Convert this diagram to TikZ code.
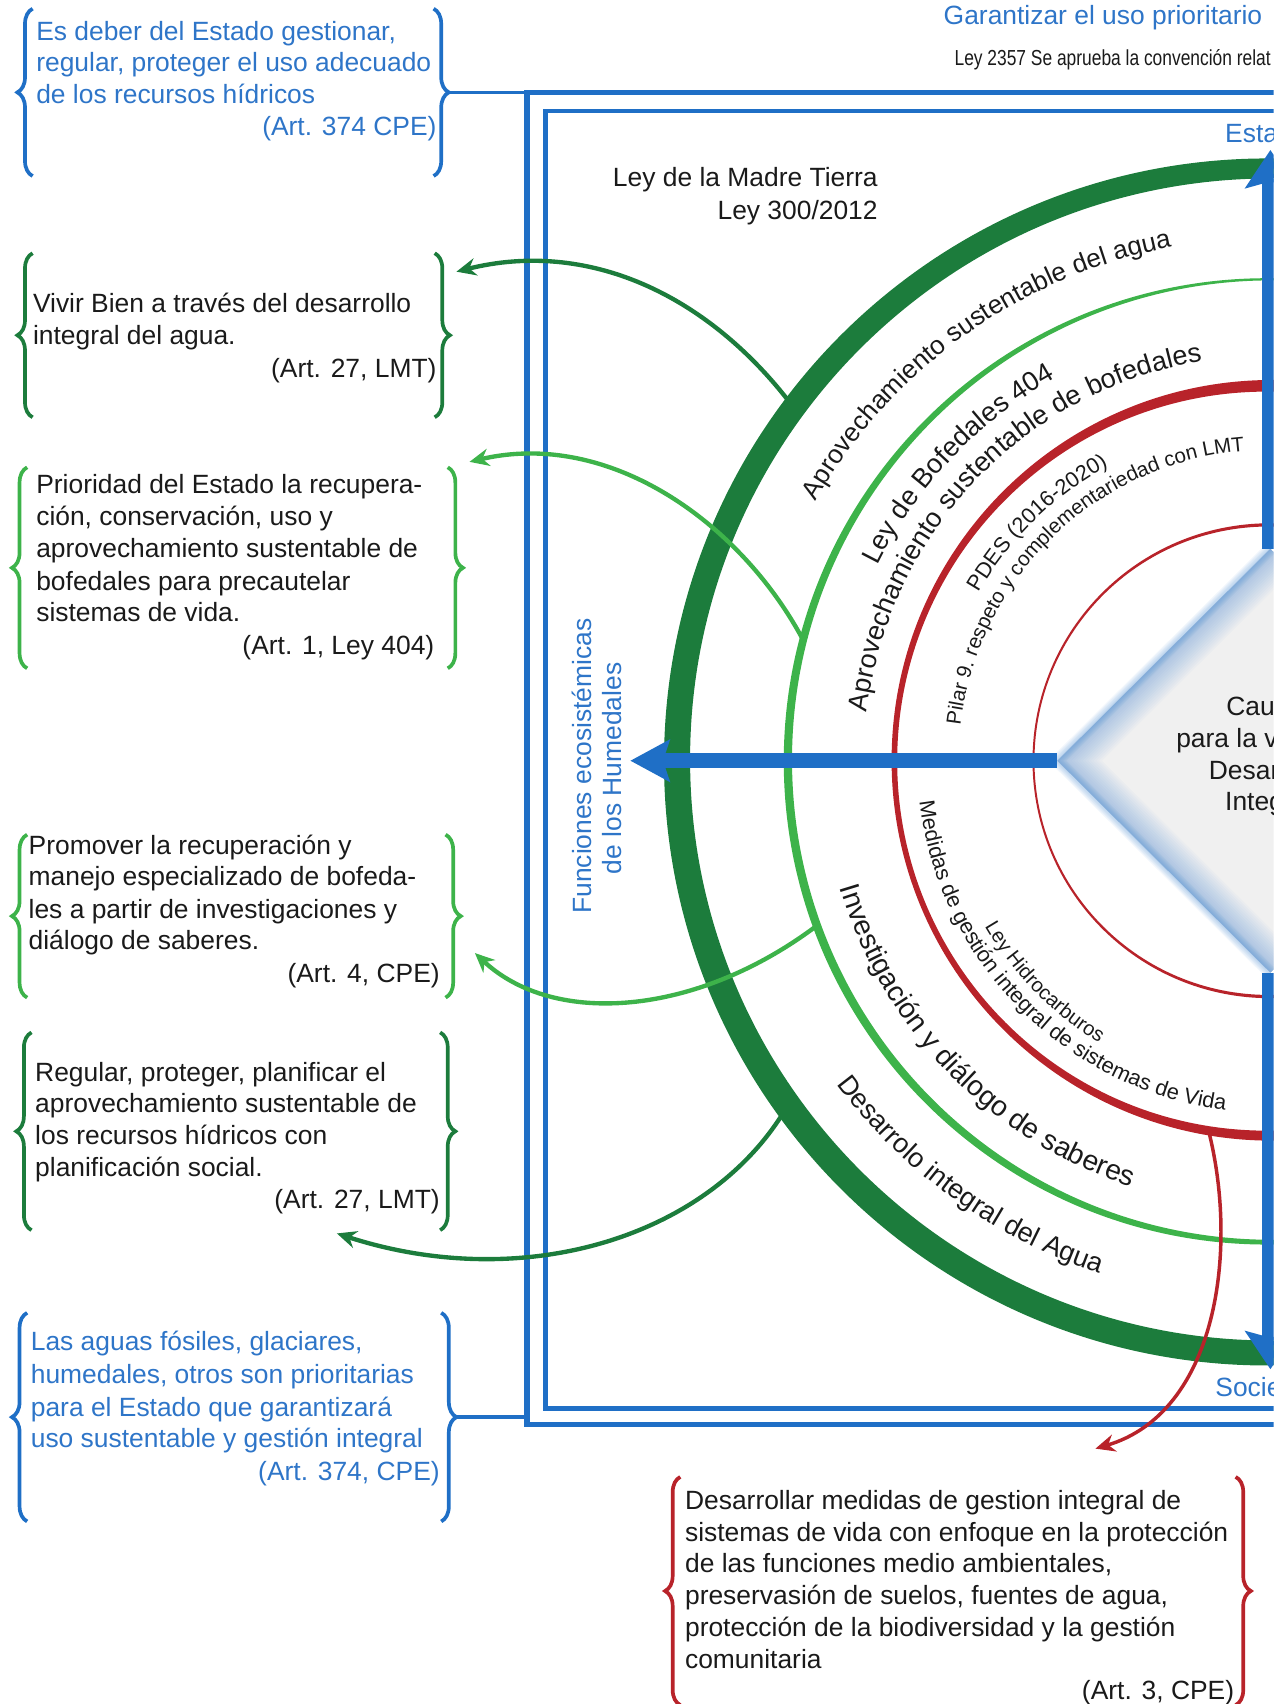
\documentclass[tikz,border=0pt]{standalone}
\usepackage{fontspec}
\setmainfont{Liberation Sans}
\newfontfamily\narrowfont[FakeStretch=0.8]{Liberation Sans}
\usetikzlibrary{arrows.meta,decorations.text,decorations.pathreplacing,calc}
\definecolor{fblue}{RGB}{31,111,198}
\definecolor{tblue}{RGB}{46,117,200}
\definecolor{dgreen}{RGB}{28,124,60}
\definecolor{lgreen}{RGB}{61,179,74}
\definecolor{rred}{RGB}{184,35,42}
\definecolor{txt}{RGB}{26,26,26}
\begin{document}
\begin{tikzpicture}[x=0.5pt,y=0.5pt,
  bt/.style={font=\fontsize{12.15}{14.75}\selectfont, inner sep=0pt, text=txt},
  bl/.style={bt, text=tblue},
  lbrace/.style={decorate, decoration={brace, amplitude=7pt, aspect=0.5}, line width=1.7pt},
  conn/.style={line width=2pt, -{Stealth[length=9pt,width=8pt]}},
  bigarrow/.style={fblue, line width=#1},
]
\useasboundingbox (0,0) rectangle (1172,-1568);
\clip (0,0) rectangle (1172,-1568);
\coordinate (C) at (1168,-700);

% ---------- rings ----------
\fill[dgreen, even odd rule] ($(C)+(-1.65,-1.15)$) circle[radius=555.35] ($(C)+(1.65,1.15)$) circle[radius=534.65];
\fill[lgreen, even odd rule] ($(C)+(-2.2,-0.6)$) circle[radius=444.6] ($(C)+(2.2,0.6)$) circle[radius=441.4];
\fill[rred, even odd rule] ($(C)+(2.4,0.375)$) circle[radius=349.97] ($(C)+(-2.4,-0.375)$) circle[radius=340.03];
\fill[rred, even odd rule] ($(C)+(0.6,0)$) circle[radius=218.5] ($(C)+(-0.6,0)$) circle[radius=215.5];

% ---------- ring texts ----------
\path[decorate, decoration={text along path, text align=center,
  text={|\color{txt}\fontsize{12}{14}\selectfont|Aprovechamiento sustentable del agua}}]
  ($(C)+(185.5:481)$) arc[start angle=185.5, end angle=65.5, radius=481];
\path[decorate, decoration={text along path, text align=center,
  text={|\color{txt}\fontsize{12.5}{14}\selectfont|Ley de Bofedales 404}}]
  ($(C)+(196.4:403)$) arc[start angle=196.4, end angle=76.4, radius=403];
\path[decorate, decoration={text along path, text align=center,
  text={|\color{txt}\fontsize{12.5}{14}\selectfont|Aprovechamiento sustentable de bofedales}}]
  ($(C)+(196.3:373)$) arc[start angle=196.3, end angle=76.3, radius=373];
\path[decorate, decoration={text along path, text align=center,
  text={|\color{txt}\fontsize{10}{12}\selectfont|PDES (2016-2020)}}]
  ($(C)+(194.3:309)$) arc[start angle=194.3, end angle=74.3, radius=309];
\path[decorate, decoration={text along path, text align=center,
  text={|\color{txt}\fontsize{9.5}{11}\selectfont|Pilar 9. respeto y complementariedad con LMT}}]
  ($(C)+(194:286)$) arc[start angle=194, end angle=74, radius=286];
\path[decorate, decoration={text along path, text align=center,
  text={|\color{txt}\fontsize{9.3}{11}\selectfont|Ley Hidrocarburos}}]
  ($(C)+(164.5:303)$) arc[start angle=164.5, end angle=284.5, radius=303];
\path[decorate, decoration={text along path, text align=center,
  text={|\color{txt}\fontsize{10}{12}\selectfont|Medidas de gestión integral de sistemas de Vida}}]
  ($(C)+(164.75:324)$) arc[start angle=164.75, end angle=284.75, radius=324];
\path[decorate, decoration={text along path, text align=center,
  text={|\color{txt}\fontsize{13}{15}\selectfont|Investigación y diálogo de saberes}}]
  ($(C)+(164.25:412)$) arc[start angle=164.25, end angle=284.25, radius=412];
\path[decorate, decoration={text along path, text align=center,
  text={|\color{txt}\fontsize{12.5}{14}\selectfont|Desarrolo integral del Agua}}]
  ($(C)+(174.25:497)$) arc[start angle=174.25, end angle=294.25, radius=497];

% ---------- centre diamond ----------
\coordinate (dL) at (973,-700);
\coordinate (dT) at (1169,-505);
\coordinate (dB) at (1169,-895);
\coordinate (dR) at (1365,-700);
\fill[black!6] (dL) -- (dT) -- (dR) -- (dB) -- cycle;
\begin{scope}
  \clip (dL) -- (dT) -- (dR) -- (dB) -- cycle;
  \foreach \i in {1,...,16}{
    \draw[fblue!75, line width=\i*1.8pt, opacity=0.035] (dT) -- (dL) -- (dB);
  }
\end{scope}
\foreach \i in {1,...,6}{
  \draw[fblue!80, line width=\i*1pt, opacity=0.07] (dT) -- (dL) -- (dB);
}
\node[bt, anchor=base west] (d1) at (1128,-658) {Cau};
\node[bt, anchor=base west] (d2) at (1082,-688) {para la v};
\node[bt, anchor=base west] (d3) at (1112,-717) {Desar};
\node[bt, anchor=base west] (d4) at (1127,-746) {Integ};

% ---------- big blue arrows ----------
\draw[bigarrow=7pt, -{Stealth[length=18pt,width=19pt,inset=3pt]}] (dL) -- (580,-700);
\draw[bigarrow=8pt, -{Stealth[length=17.5pt,width=23pt,inset=3pt]}] (dT) -- (1169,-138);
\draw[bigarrow=8pt, -{Stealth[length=17.5pt,width=23pt,inset=3pt]}] (dB) -- (1169,-1260);

% ---------- frame ----------
\draw[fblue, line width=2.5pt] (1320,-85) -- (485,-85) -- (485,-1311) -- (1320,-1311);
\draw[fblue, line width=2pt] (1320,-102) -- (502,-102) -- (502,-1296) -- (1320,-1296);

% ---------- braces ----------
\draw[lbrace, fblue] (30,-162) -- (30,-8);
\draw[lbrace, fblue] (399,-8) -- (399,-162);
\draw[lbrace, dgreen] (30,-384) -- (30,-233);
\draw[lbrace, dgreen] (400,-233) -- (400,-384);
\draw[lbrace, lgreen] (25,-615) -- (25,-430);
\draw[lbrace, lgreen] (412,-430) -- (412,-615);
\draw[lbrace, lgreen] (25,-918) -- (25,-768);
\draw[lbrace, lgreen] (410,-768) -- (410,-918);
\draw[lbrace, dgreen] (29,-1132) -- (29,-950);
\draw[lbrace, dgreen] (405,-950) -- (405,-1132);
\draw[lbrace, fblue] (25,-1400) -- (25,-1208);
\draw[lbrace, fblue] (406,-1208) -- (406,-1400);
\draw[lbrace, rred] (626,-1569) -- (626,-1359);
\draw[lbrace, rred] (1137,-1359) -- (1137,-1569);
\coordinate (t1) at (413,-85);
\coordinate (t6) at (420,-1304);
\draw[fblue, line width=1.6pt] (t1) -- (485,-85);
\draw[fblue, line width=1.6pt] (t6) -- (485,-1304);

% ---------- connectors ----------
\coordinate (ca) at (728,-372);
\coordinate (cb) at (738,-587);
\coordinate (cc) at (750,-853);
\coordinate (cd) at (722,-1022);
\coordinate (ce) at (1112,-1040);
\coordinate (ea) at (420,-250);
\coordinate (eb) at (432,-425);
\coordinate (ec) at (437,-877);
\coordinate (ed) at (310,-1135);
\coordinate (ee) at (1008,-1333);
\draw[conn, dgreen] (ca) .. controls (650,-270) and (540,-220) .. (ea);
\draw[conn, lgreen] (cb) .. controls (680,-480) and (560,-395) .. (eb);
\draw[conn, lgreen] (cc) .. controls (640,-935) and (510,-945) .. (ec);
\draw[conn, dgreen] (cd) .. controls (650,-1140) and (480,-1190) .. (ed);
\draw[conn, rred, line width=1.6pt] (ce) .. controls (1140,-1150) and (1120,-1300) .. (ee);

% ---------- texts ----------
\node[bl, anchor=base west] (top1) at (868,-23) {Garantizar el uso prioritario};
\node[inner sep=0pt, anchor=base west, text=txt, font=\narrowfont\fontsize{10}{12}\selectfont] (top2) at (878,-60) {Ley 2357 Se aprueba la convención relat};
\node[bt, anchor=base east] (lmt1) at (808,-172) {Ley de la Madre Tierra};
\node[bt, anchor=base east] (lmt2) at (808,-202) {Ley 300/2012};
\node[bl, anchor=base west] (esta) at (1127,-131) {Esta};
\node[bl, anchor=base west] (socie) at (1118,-1285) {Socie};
\node[bl, rotate=90] (fun1) at (535,-705) {Funciones ecosistémicas};
\node[bl, rotate=90] (fun2) at (563,-707) {de los Humedales};

\node[bl, anchor=base west] (a1) at (33,-37) {Es deber del Estado gestionar,};
\node[bl, anchor=base west] (a2) at (33,-66) {regular, proteger el uso adecuado};
\node[bl, anchor=base west] (a3) at (33,-95) {de los recursos hídricos};
\node[bl, anchor=base east] (a4) at (402,-125) {(Art. 374 CPE)};

\node[bt, anchor=base west] (b1) at (30,-288) {Vivir Bien a través del desarrollo};
\node[bt, anchor=base west] (b2) at (30,-317) {integral del agua.};
\node[bt, anchor=base east] (b3) at (402,-347) {(Art. 27, LMT)};

\node[bt, anchor=base west] (c1) at (33,-454) {Prioridad del Estado la recupera-};
\node[bt, anchor=base west] (c2) at (33,-484) {ción, conservación, uso y};
\node[bt, anchor=base west] (c3) at (33,-513) {aprovechamiento sustentable de};
\node[bt, anchor=base west] (c4) at (33,-543) {bofedales para precautelar};
\node[bt, anchor=base west] (c5) at (33,-572) {sistemas de vida.};
\node[bt, anchor=base east] (c6) at (400,-602) {(Art. 1, Ley 404)};

\node[bt, anchor=base west] (e1) at (26,-786) {Promover la recuperación y};
\node[bt, anchor=base west] (e2) at (26,-815) {manejo especializado de bofeda-};
\node[bt, anchor=base west] (e3) at (26,-845) {les a partir de investigaciones y};
\node[bt, anchor=base west] (e4) at (26,-874) {diálogo de saberes.};
\node[bt, anchor=base east] (e5) at (405,-904) {(Art. 4, CPE)};

\node[bt, anchor=base west] (f1) at (32,-995) {Regular, proteger, planificar el};
\node[bt, anchor=base west] (f2) at (32,-1024) {aprovechamiento sustentable de};
\node[bt, anchor=base west] (f3) at (32,-1053) {los recursos hídricos con};
\node[bt, anchor=base west] (f4) at (32,-1083) {planificación social.};
\node[bt, anchor=base east] (f5) at (405,-1112) {(Art. 27, LMT)};

\node[bl, anchor=base west] (g1) at (28,-1243) {Las aguas fósiles, glaciares,};
\node[bl, anchor=base west] (g2) at (28,-1273) {humedales, otros son prioritarias};
\node[bl, anchor=base west] (g3) at (28,-1303) {para el Estado que garantizará};
\node[bl, anchor=base west] (g4) at (28,-1332) {uso sustentable y gestión integral};
\node[bl, anchor=base east] (g5) at (405,-1362) {(Art. 374, CPE)};

\node[bt, anchor=base west] (h1) at (630,-1389) {Desarrollar medidas de gestion integral de};
\node[bt, anchor=base west] (h2) at (630,-1418) {sistemas de vida con enfoque en la protección};
\node[bt, anchor=base west] (h3) at (630,-1447) {de las funciones medio ambientales,};
\node[bt, anchor=base west] (h4) at (630,-1476) {preservasión de suelos, fuentes de agua,};
\node[bt, anchor=base west] (h5) at (630,-1506) {protección de la biodiversidad y la gestión};
\node[bt, anchor=base west] (h6) at (630,-1535) {comunitaria};
\node[bt, anchor=base east] (h7) at (1136,-1564) {(Art. 3, CPE)};
\end{tikzpicture}
\end{document}
